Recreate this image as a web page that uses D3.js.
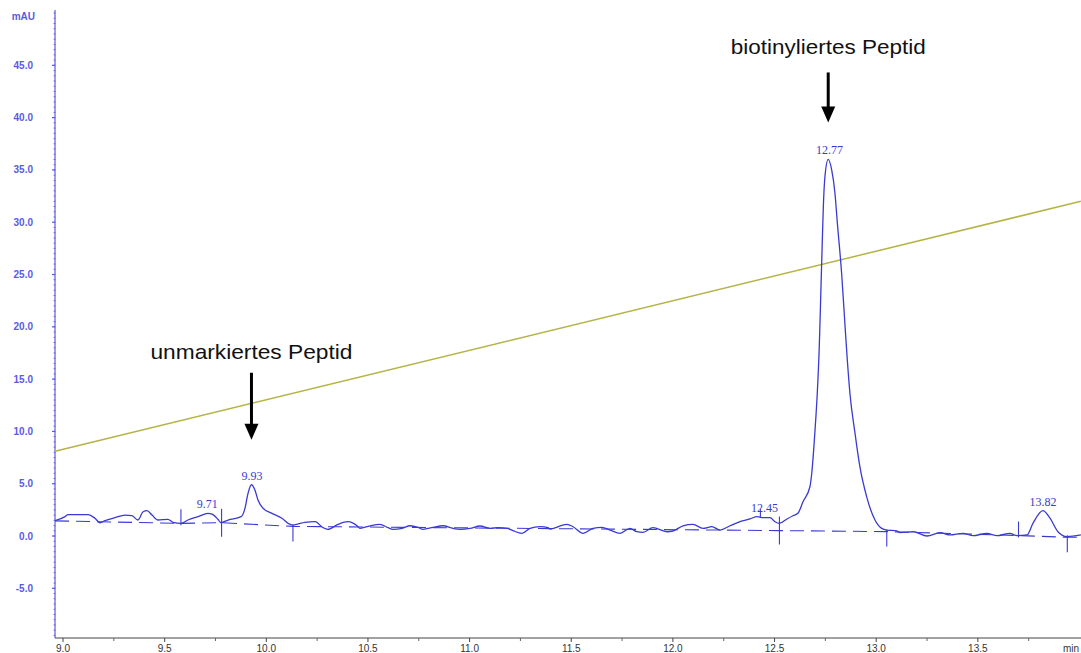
<!DOCTYPE html>
<html>
<head>
<meta charset="utf-8">
<script src="https://cdn.jsdelivr.net/npm/d3@7"></script>
<style>
  html, body { margin: 0; padding: 0; background: #fff; }
  svg { display: block; }
</style>
</head>
<body>
<svg id="chart" width="1081" height="653"></svg>
<script>
// HPLC chromatogram: UV absorbance (mAU) vs. retention time (min)

// Absorbance trace: [time (min), mAU]
const traceTime = [
  8.961, 9.010, 9.025, 9.123, 9.157, 9.182, 9.207, 9.256, 9.305, 9.339, 9.369, 9.394, 9.413, 9.438, 9.467,
  9.516, 9.541, 9.580, 9.615, 9.664, 9.713, 9.733, 9.762, 9.777, 9.812, 9.876, 9.895, 9.910, 9.927, 9.944,
  9.959, 9.984, 10.028, 10.077, 10.107, 10.131, 10.150, 10.190, 10.240, 10.279, 10.303, 10.353, 10.402,
  10.446, 10.461, 10.510, 10.559, 10.599, 10.623, 10.668, 10.707, 10.746, 10.771, 10.820, 10.869, 10.918,
  10.953, 11.002, 11.051, 11.100, 11.140, 11.184, 11.213, 11.258, 11.297, 11.346, 11.386, 11.395, 11.479,
  11.509, 11.558, 11.607, 11.651, 11.691, 11.740, 11.789, 11.823, 11.853, 11.902, 11.971, 12.000, 12.050,
  12.099, 12.148, 12.192, 12.232, 12.281, 12.330, 12.379, 12.414, 12.443, 12.478, 12.502, 12.524, 12.561,
  12.591, 12.615, 12.640, 12.674, 12.683, 12.699, 12.710, 12.720, 12.728, 12.735, 12.740, 12.748, 12.764,
  12.781, 12.797, 12.809, 12.830, 12.847, 12.858, 12.871, 12.896, 12.920, 12.953, 12.994, 13.027, 13.052,
  13.101, 13.118, 13.183, 13.250, 13.314, 13.363, 13.427, 13.476, 13.545, 13.594, 13.658, 13.692, 13.742,
  13.771, 13.820, 13.855, 13.894, 13.938, 14.007
];
const traceMAU = [
  1.47, 1.85, 2.05, 2.05, 1.70, 1.27, 1.47, 1.75, 2.00, 1.94, 1.53, 2.32, 2.42, 2.00, 1.53,
  1.60, 1.31, 1.21, 1.53, 1.85, 2.17, 2.10, 1.60, 1.27, 1.53, 1.85, 2.65, 4.08, 4.90, 4.40,
  3.44, 2.65, 2.17, 1.70, 1.21, 1.05, 1.12, 1.31, 1.37, 0.80, 0.64, 1.12, 1.37,
  0.98, 0.73, 0.98, 1.12, 0.80, 0.64, 0.73, 0.98, 0.83, 0.64, 0.83, 0.98, 0.73,
  0.64, 0.73, 0.96, 0.73, 0.80, 0.73, 0.51, 0.26, 0.73, 0.89, 0.80, 0.67, 1.12,
  0.89, 0.26, 0.73, 0.83, 0.57, 0.26, 0.73, 0.41, 0.35, 0.80, 0.41, 0.48, 0.98,
  1.12, 0.73, 0.89, 0.57, 0.98, 1.37, 1.63, 1.85, 1.75, 1.75, 1.37, 1.21, 1.63,
  1.94, 2.17, 3.28, 4.71, 6.00, 10.1, 13.6, 18.1, 23.5, 28.3, 31.5, 34.4, 36.0,
  35.0, 32.8, 29.9, 25.1, 20.0, 16.8, 13.6, 9.8, 6.6, 3.76, 1.53, 0.73, 0.57,
  0.50, 0.32, 0.41, 0.00, 0.32, 0.10, 0.26, 0.03, 0.26, 0.03, 0.26, 0.03, 0.10,
  1.21, 2.42, 1.70, 0.41, -0.06, 0.10
];

// Eluent gradient (%B), drawn on the same axis
const gradientTime = [8.961, 14.007];
const gradientValue = [8.1, 32.0];

// Integration baseline (dashed) through the peak boundaries
const baselineTime = [8.961, 9.580, 9.780, 10.131, 12.524, 13.052, 13.700, 13.940, 14.007];
const baselineMAU  = [1.45, 1.21, 1.27, 0.92, 0.52, 0.42, 0.05, -0.12, -0.12];

// Peak boundary markers: time, value on the baseline, kind of marker
const markerTime = [9.580, 9.780, 10.131, 12.524, 13.052, 13.700, 13.940];
const markerMAU  = [1.21, 1.27, 0.92, 0.52, 0.42, 0.05, -0.12];
const markerKind = ["start", "both", "end", "both", "end", "start", "end"];

// Peak labels: retention time and apex height
const peakTime  = [9.71, 9.93, 12.45, 12.77, 13.82];
const peakMAU   = [2.17, 4.90, 1.85, 36.0, 2.42];
const peakLabel = ["9.71", "9.93", "12.45", "12.77", "13.82"];

// Annotated peaks
const noteText = ["unmarkiertes Peptid", "biotinyliertes Peptid"];
const noteTime = [9.927, 12.764];
const noteMAU  = [4.90, 36.0];

// Axis ticks
const yTicks = [-5, 0, 5, 10, 15, 20, 25, 30, 35, 40, 45];
const xTicks = [9.0, 9.5, 10.0, 10.5, 11.0, 11.5, 12.0, 12.5, 13.0, 13.5];

const svg = d3.select("#chart");
const W = 1081, H = 653;
const margin = { left: 55, right: 0, top: 10, bottom: 15 };

const x = d3.scaleLinear().domain([8.9606, 14.0074]).range([margin.left, W - margin.right]);
const y = d3.scaleLinear().domain([-9.75, 50.29]).range([H - margin.bottom, margin.top]);

const blue = "#3a3ad2";
const axisBlue = "#5a5ae6";

// ---- Y axis (blue) ----
const yAxisG = svg.append("g").attr("transform", `translate(${margin.left},0)`);
yAxisG.append("line")
  .attr("x1", 0).attr("x2", 0).attr("y1", y.range()[1]).attr("y2", y.range()[0])
  .attr("stroke", axisBlue).attr("stroke-width", 1.2);
// dense minor ticks
yAxisG.selectAll("line.minor").data(d3.range(-9.5, 50.01, 0.5)).join("line")
  .attr("class", "minor")
  .attr("x1", -1.5).attr("x2", 0.5)
  .attr("y1", d => y(d)).attr("y2", d => y(d))
  .attr("stroke", axisBlue).attr("stroke-width", 0.8);
yAxisG.selectAll("line.major").data(yTicks).join("line")
  .attr("class", "major")
  .attr("x1", -3).attr("x2", 0)
  .attr("y1", d => y(d)).attr("y2", d => y(d))
  .attr("stroke", axisBlue).attr("stroke-width", 1.2);
yAxisG.selectAll("text.ylab").data(yTicks).join("text")
  .attr("class", "ylab")
  .attr("x", -22).attr("y", d => y(d) + 3.5)
  .attr("text-anchor", "end")
  .attr("font-family", "Liberation Sans, Arial, sans-serif")
  .attr("font-size", 10).attr("font-weight", "bold")
  .attr("fill", axisBlue)
  .text(d => d.toFixed(1));
yAxisG.append("text")
  .attr("x", -20).attr("y", y(50.29) + 10)
  .attr("text-anchor", "end")
  .attr("font-family", "Liberation Sans, Arial, sans-serif")
  .attr("font-size", 10).attr("font-weight", "bold")
  .attr("fill", axisBlue)
  .text("mAU");

// ---- X axis (grey) ----
const xAxisG = svg.append("g").attr("transform", `translate(0,${y.range()[0]})`);
xAxisG.append("line")
  .attr("x1", x.range()[0]).attr("x2", x.range()[1]).attr("y1", 0).attr("y2", 0)
  .attr("stroke", "#444").attr("stroke-width", 1.2);
xAxisG.selectAll("line.minor").data(d3.range(9.25, 14.0, 0.5)).join("line")
  .attr("class", "minor")
  .attr("x1", d => x(d)).attr("x2", d => x(d)).attr("y1", 0).attr("y2", 3)
  .attr("stroke", "#666").attr("stroke-width", 1);
xAxisG.selectAll("line.major").data(xTicks).join("line")
  .attr("class", "major")
  .attr("x1", d => x(d)).attr("x2", d => x(d)).attr("y1", 0).attr("y2", 4)
  .attr("stroke", "#444").attr("stroke-width", 1);
xAxisG.selectAll("text.xlab").data(xTicks).join("text")
  .attr("class", "xlab")
  .attr("x", d => x(d)).attr("y", 14)
  .attr("text-anchor", "middle")
  .attr("font-family", "Liberation Sans, Arial, sans-serif")
  .attr("font-size", 10)
  .attr("fill", "#333")
  .text(d => d.toFixed(1));
xAxisG.append("text")
  .attr("x", W - 2).attr("y", 14)
  .attr("text-anchor", "end")
  .attr("font-family", "Liberation Sans, Arial, sans-serif")
  .attr("font-size", 10)
  .attr("fill", "#333")
  .text("min");

// ---- Gradient line ----
const lineGen = d3.line().x(d => x(d[0])).y(d => y(d[1]));
svg.append("path")
  .datum(d3.zip(gradientTime, gradientValue))
  .attr("d", lineGen)
  .attr("fill", "none")
  .attr("stroke", "#b4b446")
  .attr("stroke-width", 1.5);

// ---- Integration baseline ----
svg.append("path")
  .datum(d3.zip(baselineTime, baselineMAU))
  .attr("d", lineGen)
  .attr("fill", "none")
  .attr("stroke", blue)
  .attr("stroke-width", 1.1)
  .attr("stroke-dasharray", "14,7");

// ---- Absorbance trace ----
svg.append("path")
  .datum(d3.zip(traceTime, traceMAU))
  .attr("d", d3.line().x(d => x(d[0])).y(d => y(d[1])).curve(d3.curveMonotoneX))
  .attr("fill", "none")
  .attr("stroke", blue)
  .attr("stroke-width", 1.3)
  .attr("stroke-linejoin", "round");

// ---- Peak boundary markers ----
const markerExtent = { start: [-14, 2], end: [-2, 15], both: [-14, 14] };
svg.selectAll("line.pmark").data(d3.zip(markerTime, markerMAU, markerKind)).join("line")
  .attr("class", "pmark")
  .attr("x1", d => x(d[0])).attr("x2", d => x(d[0]))
  .attr("y1", d => y(d[1]) + markerExtent[d[2]][0])
  .attr("y2", d => y(d[1]) + markerExtent[d[2]][1])
  .attr("stroke", blue).attr("stroke-width", 1.1);

// small apex tick on the 12.45 shoulder
svg.append("line")
  .attr("x1", x(peakTime[2]) - 4).attr("x2", x(peakTime[2]) - 4)
  .attr("y1", y(peakMAU[2]) - 8).attr("y2", y(peakMAU[2]) + 1)
  .attr("stroke", blue).attr("stroke-width", 1.1);

// ---- Peak labels ----
svg.selectAll("text.plab").data(d3.zip(peakTime, peakMAU, peakLabel)).join("text")
  .attr("class", "plab")
  .attr("x", d => x(d[0]))
  .attr("y", d => y(d[1]) - 5)
  .attr("text-anchor", "middle")
  .attr("font-family", "Liberation Serif, Times New Roman, serif")
  .attr("font-size", 12)
  .attr("fill", blue)
  .text(d => d[2]);

// ---- Annotations with arrows ----
const noteG = svg.selectAll("g.note").data(d3.zip(noteText, noteTime, noteMAU)).join("g")
  .attr("class", "note");
// text and arrow sit a fixed distance above the peak apex
const textGap = [126, 105];
const textWidth = [202, 195];
const arrowTopGap = [112, 87];
const arrowTipGap = [45, 37];
noteG.append("text")
  .attr("x", d => x(d[1]))
  .attr("y", (d, i) => y(d[2]) - textGap[i])
  .attr("text-anchor", "middle")
  .attr("font-family", "Liberation Sans, Arial, sans-serif")
  .attr("font-size", 21)
  .attr("textLength", (d, i) => textWidth[i])
  .attr("lengthAdjust", "spacingAndGlyphs")
  .attr("fill", "#111")
  .text(d => d[0]);
noteG.append("line")
  .attr("x1", d => x(d[1])).attr("x2", d => x(d[1]))
  .attr("y1", (d, i) => y(d[2]) - arrowTopGap[i])
  .attr("y2", (d, i) => y(d[2]) - arrowTipGap[i] - 12)
  .attr("stroke", "#000").attr("stroke-width", 3);
noteG.append("path")
  .attr("d", (d, i) => {
    const cx = x(d[1]), tip = y(d[2]) - arrowTipGap[i];
    return `M${cx - 7},${tip - 16} L${cx + 7},${tip - 16} L${cx},${tip} Z`;
  })
  .attr("fill", "#000");
</script>
</body>
</html>
